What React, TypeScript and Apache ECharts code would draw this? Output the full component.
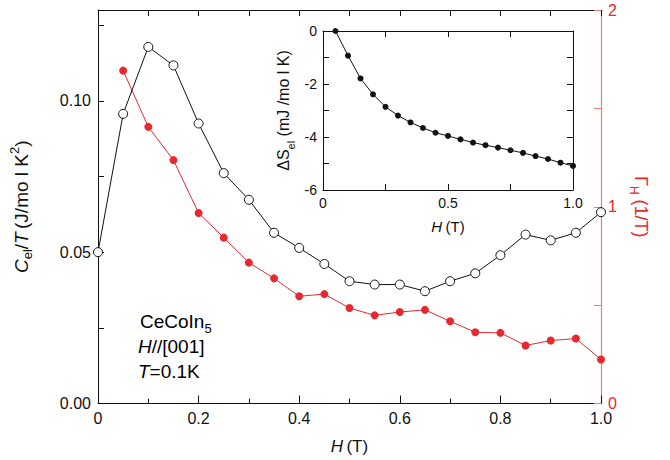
import React, { useEffect, useRef } from 'react';
import * as echarts from 'echarts';

// Main panel: field values (T)
const fieldH = [0, 0.05, 0.1, 0.15, 0.2, 0.25, 0.3, 0.35, 0.4, 0.45, 0.5, 0.55, 0.6, 0.65, 0.7, 0.75, 0.8, 0.85, 0.9, 0.95, 1.0];
// C_el/T (J/mol K^2), open black circles
const cOverT = [0.050, 0.0957, 0.1178, 0.1117, 0.0925, 0.0761, 0.0673, 0.0564, 0.0514, 0.0461, 0.0404, 0.0393, 0.0393, 0.0371, 0.0404, 0.0430, 0.0490, 0.0558, 0.0539, 0.0564, 0.0632];
// Gamma_H (1/T), filled red circles
const gammaField = [0.05, 0.1, 0.15, 0.2, 0.25, 0.3, 0.35, 0.4, 0.45, 0.5, 0.55, 0.6, 0.65, 0.7, 0.75, 0.8, 0.85, 0.9, 0.95, 1.0];
const gammaH = [1.692, 1.406, 1.237, 0.968, 0.843, 0.716, 0.636, 0.545, 0.556, 0.485, 0.448, 0.465, 0.476, 0.418, 0.362, 0.359, 0.295, 0.320, 0.330, 0.224];
// Inset: Delta S_el (mJ/mol K)
const insetH = [0.05, 0.1, 0.15, 0.2, 0.25, 0.3, 0.35, 0.4, 0.45, 0.5, 0.55, 0.6, 0.65, 0.7, 0.75, 0.8, 0.85, 0.9, 0.95, 1.0];
const deltaS = [0, -0.93, -1.79, -2.39, -2.86, -3.19, -3.45, -3.66, -3.84, -3.96, -4.09, -4.21, -4.31, -4.40, -4.50, -4.60, -4.72, -4.83, -4.97, -5.09];

const FONT = 'Liberation Sans, Arial, sans-serif';
const RED = '#e8282f';
const RED_AXIS = '#f07a7a';

export default function App() {
  const ref = useRef<HTMLDivElement>(null);
  useEffect(() => {
    if (!ref.current) return;
    const chart = echarts.init(ref.current, undefined, { renderer: 'svg' });

    const richBase = (size: number, color: string) => ({
      n: { fontSize: size, fontFamily: FONT, color, lineHeight: 26, verticalAlign: 'middle' },
      i: { fontSize: size, fontFamily: FONT, color, fontStyle: 'italic', lineHeight: 26, verticalAlign: 'middle' },
      sub: { fontSize: Math.round(size * 0.68), fontFamily: FONT, color, lineHeight: 13, verticalAlign: 'bottom' },
      sup: { fontSize: Math.round(size * 0.68), fontFamily: FONT, color, lineHeight: 13, verticalAlign: 'top' },
    });

    const blackLine = { show: true, onZero: false, lineStyle: { color: '#111', width: 1 } };
    const isMult = (v: number, m: number) => Math.abs(v / m - Math.round(v / m)) < 1e-6;

    const option: any = {
      animation: false,
      grid: [
        { left: 97, top: 10, width: 504, height: 396 },
        { left: 323, top: 31, width: 250, height: 159 },
      ],
      xAxis: [
        {
          gridIndex: 0, type: 'value', position: 'bottom', min: 0, max: 1, interval: 0.2,
          axisLine: blackLine,
          axisTick: { show: true, inside: true, length: 8, lineStyle: { color: '#111' } },
          minorTick: { show: true, splitNumber: 2, length: 5, lineStyle: { color: '#111' } },
          splitLine: { show: false },
          axisLabel: { fontSize: 16, fontFamily: FONT, color: '#111', margin: 7, formatter: (v: number) => (v === 0 ? '0' : v.toFixed(1)) },
          name: '{i|H} {n|(T)}', nameLocation: 'middle', nameGap: 30,
          nameTextStyle: { rich: richBase(17, '#111') },
        },
        {
          gridIndex: 0, type: 'value', position: 'top', min: 0, max: 1, interval: 0.1,
          axisLine: blackLine,
          axisTick: { show: true, inside: true, length: 6, lineStyle: { color: '#111' } },
          axisLabel: { show: false }, splitLine: { show: false },
        },
        {
          gridIndex: 1, type: 'value', position: 'bottom', min: 0, max: 1, interval: 0.5,
          axisLine: blackLine,
          axisTick: { show: true, inside: true, length: 6, lineStyle: { color: '#111' } },
          minorTick: { show: true, splitNumber: 2, length: 6, lineStyle: { color: '#111' } },
          splitLine: { show: false },
          axisLabel: { fontSize: 14, fontFamily: FONT, color: '#111', margin: 6, formatter: (v: number) => (v === 0 ? '0' : v.toFixed(1)) },
          name: '{i|H} {n|(T)}', nameLocation: 'middle', nameGap: 23,
          nameTextStyle: { rich: richBase(15, '#111') },
        },
        {
          gridIndex: 1, type: 'value', position: 'top', min: 0, max: 1, interval: 0.5,
          axisLine: blackLine,
          axisTick: { show: true, inside: true, length: 6, lineStyle: { color: '#111' } },
          minorTick: { show: true, splitNumber: 2, length: 6, lineStyle: { color: '#111' } },
          axisLabel: { show: false }, splitLine: { show: false },
        },
      ],
      yAxis: [
        {
          gridIndex: 0, type: 'value', position: 'left', min: 0, max: 0.13, interval: 0.025,
          axisLine: blackLine,
          axisTick: { show: true, inside: true, length: 6, lineStyle: { color: '#111' } },
          splitLine: { show: false },
          axisLabel: {
            fontSize: 16, fontFamily: FONT, color: '#111', margin: 7, showMaxLabel: false,
            formatter: (v: number) => (isMult(v, 0.05) ? v.toFixed(2) : ''),
          },
          name: '{i|C}{sub|el}{n|/}{i|T} {n|(J/mo l K}{sup|2}{n|)}', nameLocation: 'middle', nameGap: 64,
          nameTextStyle: { rich: richBase(19, '#111') },
        },
        {
          gridIndex: 0, type: 'value', position: 'right', min: 0, max: 2, interval: 1,
          axisLine: { show: true, onZero: false, lineStyle: { color: RED_AXIS, width: 1.2 } },
          axisTick: { show: true, inside: true, length: 7, lineStyle: { color: RED_AXIS } },
          minorTick: { show: true, splitNumber: 2, length: 7, lineStyle: { color: RED_AXIS } },
          splitLine: { show: false },
          axisLabel: { fontSize: 16, fontFamily: FONT, color: RED, margin: 7 },
          name: '{n|Γ}{sub|H}{n| (1/T)}', nameLocation: 'middle', nameGap: 26, nameRotate: -90,
          nameTextStyle: { rich: richBase(18, RED) },
        },
        {
          gridIndex: 1, type: 'value', position: 'left', min: -6, max: 0, interval: 2,
          axisLine: blackLine,
          axisTick: { show: true, inside: true, length: 6, lineStyle: { color: '#111' } },
          minorTick: { show: true, splitNumber: 2, length: 6, lineStyle: { color: '#111' } },
          splitLine: { show: false },
          axisLabel: { fontSize: 14, fontFamily: FONT, color: '#111', margin: 6 },
          name: '{n|ΔS}{sub|el}{n| (mJ /mo l K)}', nameLocation: 'middle', nameGap: 27,
          nameTextStyle: { rich: richBase(16, '#111') },
        },
        {
          gridIndex: 1, type: 'value', position: 'right', min: -6, max: 0, interval: 2,
          axisLine: blackLine,
          axisTick: { show: true, inside: true, length: 6, lineStyle: { color: '#111' } },
          minorTick: { show: true, splitNumber: 2, length: 6, lineStyle: { color: '#111' } },
          axisLabel: { show: false }, splitLine: { show: false },
        },
      ],
      series: [
        {
          type: 'line', xAxisIndex: 0, yAxisIndex: 1, z: 2,
          data: gammaField.map((h, k) => [h, gammaH[k]]),
          symbol: 'circle', symbolSize: 8,
          lineStyle: { color: RED, width: 1 },
          itemStyle: { color: RED, borderWidth: 0 },
        },
        {
          type: 'line', xAxisIndex: 0, yAxisIndex: 0, z: 3,
          data: fieldH.map((h, k) => [h, cOverT[k]]),
          symbol: 'circle', symbolSize: 9, showAllSymbol: true,
          lineStyle: { color: '#111', width: 1 },
          itemStyle: { color: '#fff', borderColor: '#111', borderWidth: 1 },
        },
        {
          type: 'line', xAxisIndex: 2, yAxisIndex: 2, z: 4,
          data: insetH.map((h, k) => [h, deltaS[k]]),
          symbol: 'circle', symbolSize: 6, smooth: false,
          lineStyle: { color: '#111', width: 1 },
          itemStyle: { color: '#111', borderWidth: 0 },
        },
      ],
      graphic: [
        { type: 'text', left: 140, top: 312, style: { text: '{n|CeCoIn}{sub|5}', rich: richBase(19, '#111') } },
        { type: 'text', left: 138, top: 337, style: { text: '{i|H}{n|//[001]}', rich: richBase(19, '#111') } },
        { type: 'text', left: 138, top: 362, style: { text: '{i|T}{n|=0.1K}', rich: richBase(19, '#111') } },
      ],
    };
    chart.setOption(option);
    return () => chart.dispose();
  }, []);
  return <div ref={ref} style={{ width: 670, height: 460, position: 'absolute', left: 0, top: 0 }} />;
}
